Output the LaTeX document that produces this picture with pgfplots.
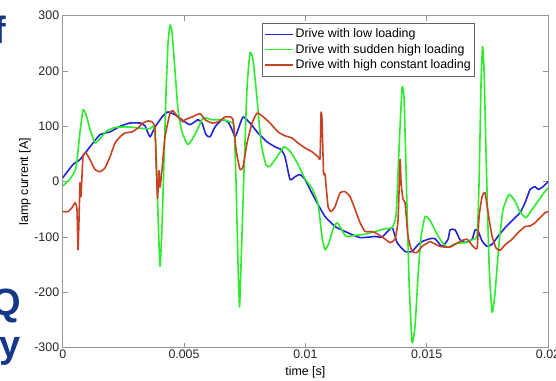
\documentclass[border=0pt]{standalone}
\usepackage{pgfplots}
\usepackage{pgfplotstable}
\pgfplotsset{compat=1.18}
\usepackage{fontspec}
\setmainfont{Liberation Sans}
\definecolor{mblue}{RGB}{35,35,215}
\definecolor{mgreen}{RGB}{45,235,45}
\definecolor{mred}{RGB}{200,65,35}
\definecolor{navy}{RGB}{20,55,135}
\definecolor{framegray}{RGB}{150,150,150}
\definecolor{leggray}{RGB}{100,100,100}

\pgfplotstableread{
t v
0.000000 7
0.000425 31
0.000713 40
0.001125 63
0.001538 85
0.001950 90
0.002362 100
0.002774 106
0.003186 106
0.003392 101
0.003598 81
0.003804 99
0.004134 119
0.004340 126
0.004629 121
0.005041 108
0.005247 103
0.005577 112
0.005742 106
0.005907 85
0.006072 81
0.006278 99
0.006566 112
0.006813 108
0.006978 94
0.007102 81
0.007226 94
0.007432 117
0.007720 106
0.008050 88
0.008421 72
0.008751 63
0.008998 58
0.009162 45
0.009369 4
0.009575 9
0.009781 13
0.009987 4
0.010193 -14
0.010482 -38
0.010812 -63
0.011224 -81
0.011636 -90
0.012255 -101
0.012873 -99
0.013162 -100
0.013574 -83
0.013780 -110
0.014110 -126
0.014398 -126
0.014728 -110
0.015140 -103
0.015346 -103
0.015634 -117
0.015882 -104
0.015964 -87
0.016170 -87
0.016376 -105
0.016582 -110
0.016871 -104
0.016995 -87
0.017118 -89
0.017283 -107
0.017489 -117
0.017696 -113
0.017902 -101
0.018231 -83
0.018643 -65
0.018849 -56
0.019055 -38
0.019262 -14
0.019468 -9
0.019592 -14
0.019798 -9
0.020000 0
}\lowload

\pgfplotstableread{
t v
0.000000 -8
0.000301 5
0.000548 25
0.000713 90
0.000837 130
0.000960 122
0.001125 95
0.001331 70
0.001538 78
0.001826 92
0.002156 98
0.002568 99
0.002980 98
0.003310 96
0.003598 96
0.003763 100
0.003845 60
0.003928 -60
0.004011 -153
0.004093 -80
0.004176 40
0.004258 160
0.004340 250
0.004423 283
0.004505 270
0.004629 200
0.004752 130
0.004917 90
0.005164 67
0.005453 85
0.005783 115
0.006154 112
0.006607 112
0.006896 108
0.007061 100
0.007143 0
0.007226 -150
0.007288 -226
0.007349 -150
0.007473 20
0.007597 170
0.007720 233
0.007844 220
0.008009 150
0.008174 70
0.008380 30
0.008545 28
0.008833 45
0.009121 63
0.009369 55
0.009657 35
0.009987 5
0.010276 -12
0.010523 -40
0.010688 -100
0.010812 -123
0.010977 -110
0.011142 -85
0.011307 -74
0.011472 -85
0.011678 -99
0.012049 -97
0.012461 -95
0.012873 -90
0.013285 -85
0.013574 -83
0.013739 -60
0.013862 60
0.013986 170
0.014068 150
0.014151 20
0.014274 -180
0.014398 -290
0.014522 -260
0.014645 -170
0.014769 -100
0.014934 -63
0.015140 -70
0.015428 -95
0.015676 -112
0.015882 -119
0.016170 -112
0.016582 -110
0.016871 -105
0.017077 -97
0.017160 0
0.017242 180
0.017304 244
0.017366 200
0.017448 50
0.017572 -150
0.017696 -236
0.017819 -200
0.017984 -110
0.018149 -50
0.018396 -23
0.018643 -35
0.018849 -55
0.019097 -65
0.019344 -50
0.019592 -35
0.019798 -22
0.020000 -11
}\suddenload

\pgfplotstableread{
t v
0.000000 -54
0.000218 -54
0.000383 -47
0.000507 -38
0.000589 -50
0.000631 -123
0.000672 -69
0.000713 -2
0.000754 -27
0.000837 45
0.000960 52
0.001125 40
0.001331 22
0.001538 18
0.001744 25
0.001950 45
0.002156 70
0.002362 81
0.002568 88
0.002857 90
0.003104 97
0.003310 106
0.003516 110
0.003680 108
0.003804 99
0.003845 40
0.003908 -30
0.003969 20
0.004011 -10
0.004093 22
0.004217 81
0.004423 124
0.004546 128
0.004752 117
0.004958 108
0.005041 112
0.005330 117
0.005659 123
0.005865 112
0.006154 106
0.006401 108
0.006690 117
0.006896 117
0.007019 112
0.007143 58
0.007308 22
0.007432 27
0.007597 70
0.007803 106
0.008009 124
0.008215 119
0.008545 106
0.008874 90
0.009162 83
0.009451 79
0.009698 70
0.009987 61
0.010276 54
0.010523 45
0.010606 43
0.010647 124
0.010688 112
0.010750 16
0.010812 13
0.010936 -45
0.011059 -54
0.011224 -45
0.011430 -20
0.011636 -18
0.011843 -27
0.012049 -50
0.012255 -74
0.012461 -90
0.012667 -90
0.012873 -92
0.013203 -101
0.013491 -110
0.013697 -104
0.013821 -69
0.013903 40
0.013945 -2
0.014027 -32
0.014110 -38
0.014233 -99
0.014398 -126
0.014604 -128
0.014810 -117
0.015057 -110
0.015140 -108
0.015552 -117
0.015964 -118
0.016376 -108
0.016665 -104
0.016912 -117
0.017077 -120
0.017160 -63
0.017283 -27
0.017407 -20
0.017531 -56
0.017696 -99
0.017861 -120
0.018025 -124
0.018231 -114
0.018520 -104
0.018767 -92
0.019055 -81
0.019262 -80
0.019468 -74
0.019674 -65
0.019880 -56
0.020000 -54
}\constload

\begin{document}
\begin{tikzpicture}[font=\fontsize{12.4bp}{14bp}\selectfont]
\begin{axis}[
  name=ax,
  width=485.3bp, height=332bp, scale only axis,
  xmin=0, xmax=0.02, ymin=-300, ymax=300,
  xtick={0,0.005,0.01,0.015,0.02},
  xticklabels={0,0.005,0.01,0.015,0.02},
  scaled x ticks=false,
  ytick={-300,-200,-100,0,100,200,300},
  /pgf/number format/assume math mode=true,
  tick align=inside,
  major tick length=5bp,
  axis line style={draw=framegray, line width=0.8bp},
  tick style={draw=framegray, line width=0.8bp},
  ticklabel style={text=black!85},
  xticklabel style={yshift=1.5bp},
  xlabel={time [s]}, ylabel={lamp current [A]},
  xlabel style={at={(axis description cs:0.5,-0.0732)}, anchor=center},
  ylabel style={at={(axis description cs:-0.0777,0.5)}, anchor=center},
  legend style={at={(0.4107,0.978)}, anchor=north west,
    draw=leggray, line width=0.8bp, fill=white,
    inner xsep=2bp, inner ysep=3.5bp,
    nodes={inner sep=2bp, text depth=0.25em},
    row sep=-0.3bp},
  legend cell align=left,
  legend image code/.code={\draw[#1] (0bp,0bp) -- (28bp,0bp);},
  legend image post style={line width=1.2bp},
  every axis plot/.append style={line width=1.6bp, line join=round, smooth, tension=0.3},
]
\addplot[mblue] table[x=t,y=v] {\lowload};
\addlegendentry{Drive with low loading}
\addplot[mgreen] table[x=t,y=v] {\suddenload};
\addlegendentry{Drive with sudden high loading}
\addplot[mred] table[x=t,y=v] {\constload};
\addlegendentry{Drive with high constant loading}
\end{axis}
\node[anchor=base east, text=navy, font=\fontsize{38bp}{40bp}\selectfont\bfseries, inner sep=0pt] at ([xshift=-56.7bp,yshift=304bp]ax.south west) {f};
\node[anchor=base east, text=navy, font=\fontsize{38bp}{40bp}\selectfont\bfseries, inner sep=0pt] at ([xshift=-41.7bp,yshift=32.7bp]ax.south west) {Q};
\node[anchor=base east, text=navy, font=\fontsize{38bp}{40bp}\selectfont\bfseries, inner sep=0pt] at ([xshift=-41.7bp,yshift=-9.5bp]ax.south west) {y};
\pgfresetboundingbox
\path[use as bounding box] ([xshift=-62.7bp,yshift=-33.3bp]ax.south west) rectangle ([xshift=8bp,yshift=15.7bp]ax.north east);
\end{tikzpicture}
\end{document}
